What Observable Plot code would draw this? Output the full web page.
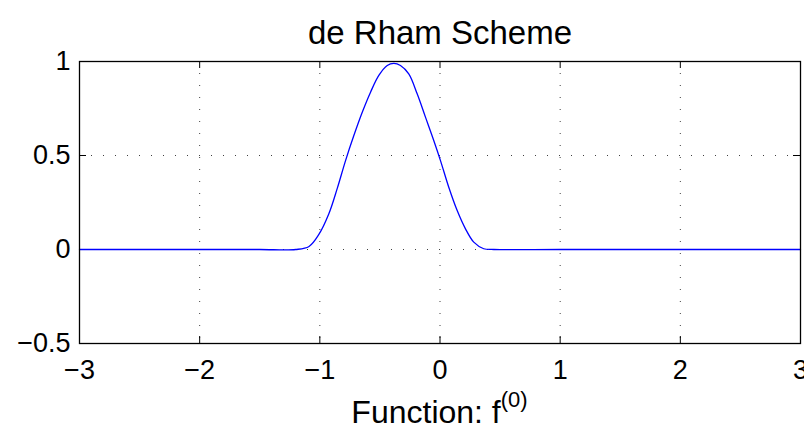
<!DOCTYPE html>
<html>
<head>
<meta charset="utf-8">
<script src="https://cdn.jsdelivr.net/npm/d3@7"></script>
<script src="https://cdn.jsdelivr.net/npm/@observablehq/plot@0.6"></script>
<style>
  html, body { margin: 0; padding: 0; background: white; }
  #chart svg { display: block; overflow: visible; }
</style>
</head>
<body>
<div id="chart"></div>
<script>
// Values
const xs = [-3, -2, -1.5, -1.2, -1.09, -1.008, -0.925, -0.855, -0.786, -0.717, -0.647, -0.578, -0.509, -0.439, -0.384, -0.329, -0.26, -0.19, -0.121, -0.052, 0.004, 0.073, 0.143, 0.212, 0.281, 0.364, 0.448, 1, 2, 3];
const ys = [0, 0, 0, 0, 0.016, 0.08, 0.19, 0.325, 0.473, 0.606, 0.73, 0.837, 0.926, 0.979, 0.99, 0.979, 0.934, 0.828, 0.704, 0.58, 0.473, 0.331, 0.207, 0.11, 0.039, 0.004, 0, 0, 0, 0];
const xTicks = [-3, -2, -1, 0, 1, 2, 3];
const yTicks = [-0.5, 0, 0.5, 1];
const titleText = "de Rham Scheme";
const xLabelMain = "Function: f";
const xLabelSup = "(0)";

const data = xs.map((x, i) => ({x, y: ys[i]}));
const fmt = d => d < 0 ? "\u2212" + Math.abs(d) : String(d);

const W = 804, H = 430;
const mL = 79, mR = 4, mT = 61, mB = 87;
const plotW = W - mL - mR, plotH = H - mT - mB;
const tick = 7;

const chart = Plot.plot({
  width: W,
  height: H,
  marginLeft: mL,
  marginRight: mR,
  marginTop: mT,
  marginBottom: mB,
  style: {fontFamily: "'Liberation Sans', Arial, Helvetica, sans-serif", fontSize: "27px", background: "white", color: "black"},
  x: {domain: [-3, 3]},
  y: {domain: [-0.5, 1]},
  marks: [
    Plot.gridX(xTicks, {stroke: "black", strokeOpacity: 0.75, strokeWidth: 1, strokeDasharray: "1,11"}),
    Plot.gridY(yTicks, {stroke: "black", strokeOpacity: 0.75, strokeWidth: 1, strokeDasharray: "1,11"}),
    Plot.gridX(xTicks, {stroke: "black", strokeOpacity: 1, insetTop: plotH - tick}),
    Plot.gridX(xTicks, {stroke: "black", strokeOpacity: 1, insetBottom: plotH - tick}),
    Plot.gridY(yTicks, {stroke: "black", strokeOpacity: 1, insetRight: plotW - tick}),
    Plot.gridY(yTicks, {stroke: "black", strokeOpacity: 1, insetLeft: plotW - tick}),
    Plot.line(data, {x: "x", y: "y", stroke: "#0000ff", strokeWidth: 1.3, curve: "catmull-rom"}),
    Plot.frame({stroke: "black", strokeWidth: 1.3}),
    Plot.axisX(xTicks, {tickSize: 0, tickPadding: 16, tickFormat: fmt, fontSize: 27, label: null}),
    Plot.axisY(yTicks, {tickSize: 0, tickPadding: 9, tickFormat: fmt, fontSize: 27, label: null}),
    Plot.text([titleText], {frameAnchor: "top", dy: -18, lineAnchor: "bottom", fontSize: 33, fill: "black"})
  ]
});

const svg = d3.select(chart);
const lbl = svg.append("text")
  .attr("x", (mL + W - mR) / 2)
  .attr("y", 423)
  .attr("text-anchor", "middle")
  .attr("font-size", 32)
  .attr("fill", "black");
lbl.append("tspan").text(xLabelMain);
lbl.append("tspan").attr("font-size", 22).attr("dy", -16).text(xLabelSup);

document.getElementById("chart").appendChild(chart);
</script>
</body>
</html>
